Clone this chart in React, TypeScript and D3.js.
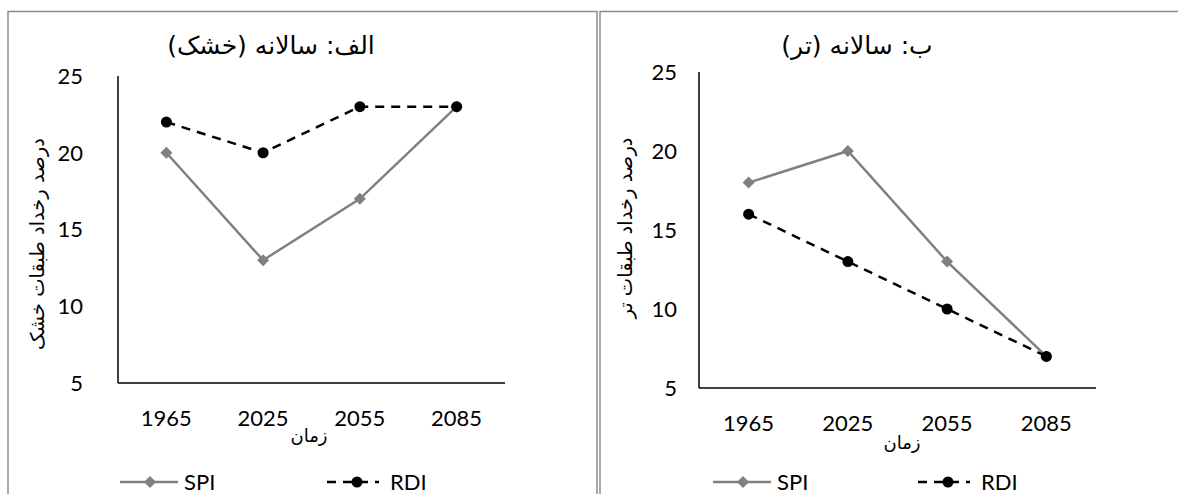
import React from "react";
import * as d3 from "d3";

const years = ["1965", "2025", "2055", "2085"];
const yTicks = [5, 10, 15, 20, 25];

const drySPI = [20, 13, 17, 23];
const dryRDI = [22, 20, 23, 23];
const wetSPI = [18, 20, 13, 7];
const wetRDI = [16, 13, 10, 7];

const FONT = "Lato, 'DejaVu Sans', sans-serif";
const FA_FONT = "'DejaVu Sans', sans-serif";
const GRAY = "#808080";

type PanelProps = {
  title: string;
  yTitle: string;
  spi: number[];
  rdi: number[];
  frame: [number, number, number, number];
  x0: number;
  x1: number;
  yTop: number;
  yBot: number;
  titleX: number;
  titleY: number;
  yTitleX: number;
  yTitleY: number;
  tickLabelX: number;
  xLabelY: number;
  xTitleX: number;
  xTitleY: number;
  legendY: number;
  legendSpi: number;
  legendRdi: number;
};

function Diamond({ cx, cy, r }: { cx: number; cy: number; r: number }) {
  return (
    <path
      d={`M${cx},${cy - r}L${cx + r},${cy}L${cx},${cy + r}L${cx - r},${cy}Z`}
      fill={GRAY}
    />
  );
}

function Panel(p: PanelProps) {
  const x = d3.scalePoint<string>().domain(years).range([p.x0, p.x1]).padding(0.5);
  const y = d3.scaleLinear().domain([5, 25]).range([p.yBot, p.yTop]);
  const line = d3
    .line<number>()
    .x((_, i) => x(years[i]) as number)
    .y((d) => y(d));
  const [fx, fy, fw, fh] = p.frame;
  return (
    <g>
      <rect x={fx} y={fy} width={fw} height={fh} fill="white" stroke="#8c8c8c" strokeWidth={1.5} />
      <text x={p.titleX} y={p.titleY} textAnchor="middle" fontSize={25} fontFamily={FA_FONT} direction="rtl">
        {p.title}
      </text>
      {/* axes */}
      <line x1={p.x0} x2={p.x0} y1={p.yTop} y2={p.yBot} stroke="black" strokeWidth={1.5} />
      <line x1={p.x0} x2={p.x1} y1={p.yBot} y2={p.yBot} stroke="black" strokeWidth={1.5} />
      {yTicks.map((t) => (
        <text key={t} x={p.tickLabelX} y={y(t)} dy="0.36em" textAnchor="end" fontSize={22} fontFamily={FONT}>
          {t}
        </text>
      ))}
      {years.map((yr) => (
        <text key={yr} x={x(yr)} y={p.xLabelY} dy="0.36em" textAnchor="middle" fontSize={22} fontFamily={FONT}>
          {yr}
        </text>
      ))}
      <text x={p.xTitleX} y={p.xTitleY} dy="0.35em" textAnchor="middle" fontSize={18} fontFamily={FA_FONT} direction="rtl">
        زمان
      </text>
      <text
        transform={`translate(${p.yTitleX},${p.yTitleY}) rotate(-90)`}
        textAnchor="middle"
        dy="0.35em"
        fontSize={19.5}
        fontFamily={FA_FONT}
        direction="rtl"
      >
        {p.yTitle}
      </text>
      {/* series */}
      <path d={line(p.spi) ?? ""} fill="none" stroke={GRAY} strokeWidth={2.5} />
      {p.spi.map((v, i) => (
        <Diamond key={i} cx={x(years[i]) as number} cy={y(v)} r={6} />
      ))}
      <path d={line(p.rdi) ?? ""} fill="none" stroke="black" strokeWidth={2.5} strokeDasharray="9,7" />
      {p.rdi.map((v, i) => (
        <circle key={i} cx={x(years[i]) as number} cy={y(v)} r={5.5} fill="black" />
      ))}
      {/* legend */}
      <line x1={p.legendSpi} x2={p.legendSpi + 58} y1={p.legendY} y2={p.legendY} stroke={GRAY} strokeWidth={2.5} />
      <Diamond cx={p.legendSpi + 30} cy={p.legendY} r={6} />
      <text x={p.legendSpi + 64} y={p.legendY} dy="0.36em" fontSize={22} fontFamily={FONT}>
        SPI
      </text>
      <line
        x1={p.legendRdi}
        x2={p.legendRdi + 52}
        y1={p.legendY}
        y2={p.legendY}
        stroke="black"
        strokeWidth={2.5}
        strokeDasharray="9,7"
      />
      <circle cx={p.legendRdi + 30} cy={p.legendY} r={5.5} fill="black" />
      <text x={p.legendRdi + 63} y={p.legendY} dy="0.36em" fontSize={22} fontFamily={FONT}>
        RDI
      </text>
    </g>
  );
}

export default function App() {
  return (
    <svg width={1178} height={494} style={{ position: "absolute", left: 0, top: 0, background: "white" }}>
      <Panel
        title="الف: سالانه (خشک)"
        yTitle="درصد رخداد طبقات خشک"
        spi={drySPI}
        rdi={dryRDI}
        frame={[8, 11.5, 589, 500]}
        x0={118}
        x1={505}
        yTop={76}
        yBot={383}
        titleX={271}
        titleY={54}
        yTitleX={37}
        yTitleY={244}
        tickLabelX={83}
        xLabelY={418}
        xTitleX={309}
        xTitleY={436}
        legendY={482}
        legendSpi={120}
        legendRdi={327}
      />
      <Panel
        title="ب: سالانه (تر)"
        yTitle="درصد رخداد طبقات تر"
        spi={wetSPI}
        rdi={wetRDI}
        frame={[600, 11.5, 600, 500]}
        x0={699}
        x1={1096}
        yTop={72}
        yBot={388}
        titleX={857}
        titleY={54}
        yTitleX={625}
        yTitleY={228}
        tickLabelX={677}
        xLabelY={423}
        xTitleX={902}
        xTitleY={443}
        legendY={482}
        legendSpi={713}
        legendRdi={918}
      />
    </svg>
  );
}
